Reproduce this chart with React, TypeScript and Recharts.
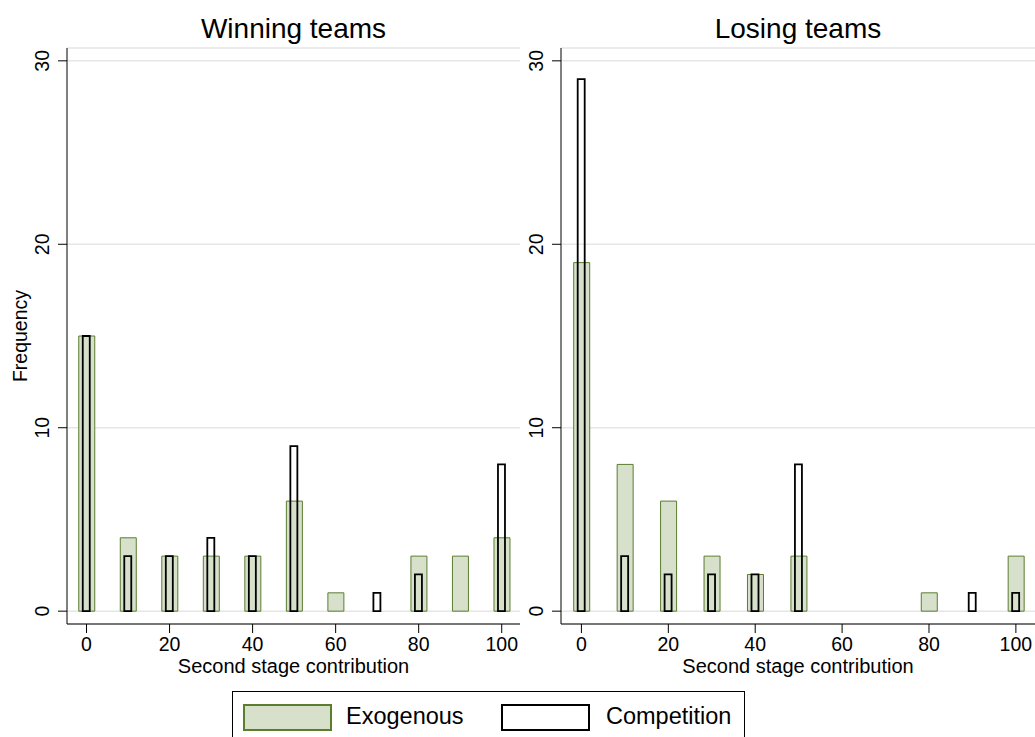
import { BarChart, Bar, XAxis, YAxis, CartesianGrid } from "recharts"

const contributions = [0, 10, 20, 30, 40, 50, 60, 70, 80, 90, 100]
const winExogenous = [15, 4, 3, 3, 3, 6, 1, 0, 3, 3, 4]
const winCompetition = [15, 3, 3, 4, 3, 9, 0, 1, 2, 0, 8]
const loseExogenous = [19, 8, 6, 3, 2, 3, 0, 0, 1, 0, 3]
const loseCompetition = [29, 3, 2, 2, 2, 8, 0, 0, 0, 1, 1]
const xTicks = [0, 20, 40, 60, 80, 100]
const yTicks = [0, 10, 20, 30]

const FONT = "'Liberation Sans', Arial, sans-serif"
const EXO_FILL = "#d6e0cb"
const EXO_STROKE = "#5b7d2f"

const YTick = (props: any) => {
  const { x, y, payload } = props
  return (
    <text
      x={x - 1}
      y={y}
      transform={`rotate(-90, ${x - 1}, ${y})`}
      textAnchor="middle"
      fontSize={19.5}
      fontFamily={FONT}
      fill="#000"
    >
      {payload.value}
    </text>
  )
}

function Panel({ exo, comp, width }: { exo: number[]; comp: number[]; width: number }) {
  const data = contributions.map((c, i) => ({ x: c, exo: exo[i], comp: comp[i] }))
  const tickStyle = { fontSize: 19.5, fontFamily: FONT, fill: "#000" }
  return (
    <BarChart width={width} height={680} data={data} margin={{ top: 48, right: 0, left: 0, bottom: 0 }}>
      <CartesianGrid vertical={false} stroke="#e6e6e6" strokeWidth={1.5} />
      <XAxis xAxisId="comp" dataKey="x" type="number" domain={[-4.7, 104.4]} allowDataOverflow hide height={0} />
      <XAxis
        xAxisId="exo"
        dataKey="x"
        type="number"
        domain={[-4.7, 104.4]}
        allowDataOverflow
        ticks={xTicks}
        height={56}
        tickSize={9}
        tickMargin={4}
        stroke="#000"
        tick={tickStyle}
      />
      <YAxis
        type="number"
        domain={[-0.7, 30.7]}
        allowDataOverflow
        ticks={yTicks}
        width={67}
        tickSize={9}
        tickMargin={8}
        stroke="#000"
        tick={<YTick />}
      />
      <Bar
        xAxisId="exo"
        dataKey="exo"
        barSize={16}
        fill={EXO_FILL}
        stroke={EXO_STROKE}
        strokeWidth={1}
        isAnimationActive={false}
      />
      <Bar
        xAxisId="comp"
        dataKey="comp"
        barSize={7}
        fill="none"
        stroke="#000"
        strokeWidth={1.8}
        isAnimationActive={false}
      />
    </BarChart>
  )
}

const textBase: React.CSSProperties = { position: "absolute", fontFamily: FONT, color: "#000", whiteSpace: "nowrap" }

export default function App() {
  return (
    <div style={{ position: "absolute", left: 0, top: 0, width: 1035, height: 737, overflow: "hidden", background: "#fff" }}>
      <div style={{ position: "absolute", left: 0, top: 0 }}>
        <Panel exo={winExogenous} comp={winCompetition} width={520} />
      </div>
      <div style={{ position: "absolute", left: 494, top: 0 }}>
        <Panel exo={loseExogenous} comp={loseCompetition} width={541} />
      </div>

      <div style={{ ...textBase, left: 67, width: 453, top: 13, fontSize: 28, textAlign: "center" }}>Winning teams</div>
      <div style={{ ...textBase, left: 561, width: 474, top: 13, fontSize: 28, textAlign: "center" }}>Losing teams</div>

      <div style={{ ...textBase, left: 67, width: 453, top: 655, fontSize: 20, textAlign: "center" }}>Second stage contribution</div>
      <div style={{ ...textBase, left: 561, width: 474, top: 655, fontSize: 20, textAlign: "center" }}>Second stage contribution</div>

      <div style={{ ...textBase, left: 20, top: 336, fontSize: 19.5, transform: "translate(-50%, -50%) rotate(-90deg)" }}>Frequency</div>

      <div style={{ position: "absolute", left: 232, top: 691, width: 513, height: 60, border: "1px solid #000", boxSizing: "border-box" }}>
        <div style={{ position: "absolute", left: 10, top: 12, width: 89, height: 27, background: EXO_FILL, border: `2px solid ${EXO_STROKE}`, boxSizing: "border-box" }} />
        <div style={{ ...textBase, left: 113, top: 11, fontSize: 23.5 }}>Exogenous</div>
        <div style={{ position: "absolute", left: 268, top: 12, width: 89, height: 27, background: "#fff", border: "2px solid #000", boxSizing: "border-box" }} />
        <div style={{ ...textBase, left: 373, top: 11, fontSize: 23.5 }}>Competition</div>
      </div>
    </div>
  )
}
